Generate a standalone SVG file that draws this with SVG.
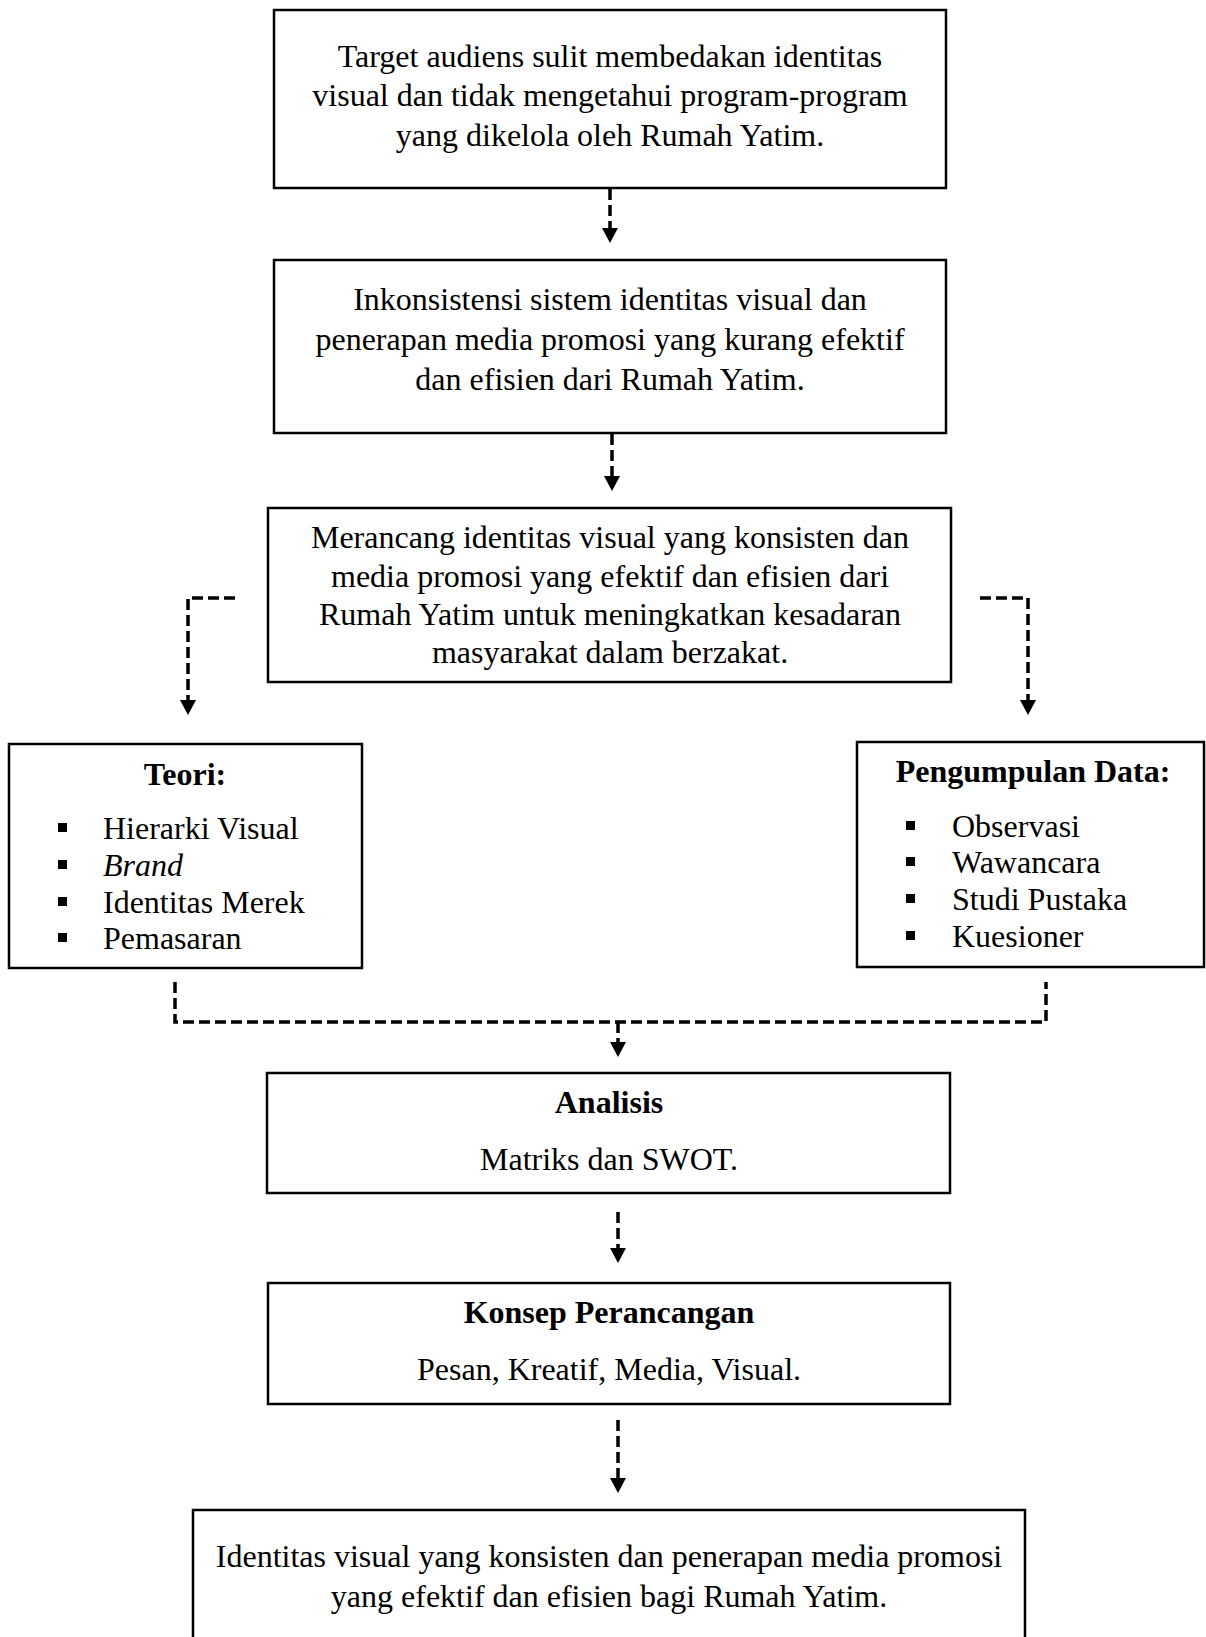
<svg xmlns="http://www.w3.org/2000/svg" width="1206" height="1637" viewBox="0 0 1206 1637">
<style>
.box{fill:#fff;stroke:#000;stroke-width:2.5}
.t{font-family:"Liberation Serif","Times New Roman",serif;font-size:32px;fill:#000}
.c{text-anchor:middle}
.b{font-weight:bold}
.conn{fill:none;stroke:#000;stroke-width:3.5;stroke-dasharray:11 5}
.bul{fill:#000}
</style>
<defs>
<marker id="ah" viewBox="0 0 15 16" markerWidth="15" markerHeight="16" refX="0" refY="8" orient="auto" markerUnits="userSpaceOnUse">
<path d="M0,0 L15,8 L0,16 z" fill="#000"/>
</marker>
</defs>
<rect width="1206" height="1637" fill="#fff"/>
<g id="connectors">
<path class="conn" d="M610,189 V228" marker-end="url(#ah)"/>
<path class="conn" d="M612,434 V476" marker-end="url(#ah)"/>
<path class="conn" d="M235,598 H188 V700" marker-end="url(#ah)"/>
<path class="conn" d="M980,598 H1028 V700" marker-end="url(#ah)"/>
<path class="conn" d="M175,982 V1022 H1046 V982"/>
<path class="conn" d="M618,1022 V1042" marker-end="url(#ah)"/>
<path class="conn" d="M618,1212 V1248" marker-end="url(#ah)"/>
<path class="conn" d="M618,1420 V1478" marker-end="url(#ah)"/>
</g>
<g id="node-masalah">
<rect class="box" x="274" y="10" width="672" height="178"/>
<text class="t c" x="610" y="67">Target audiens sulit membedakan identitas</text>
<text class="t c" x="610" y="106">visual dan tidak mengetahui program-program</text>
<text class="t c" x="610" y="146">yang dikelola oleh Rumah Yatim.</text>
</g>
<g id="node-inkonsistensi">
<rect class="box" x="274" y="260" width="672" height="173"/>
<text class="t c" x="610" y="310">Inkonsistensi sistem identitas visual dan</text>
<text class="t c" x="610" y="350">penerapan media promosi yang kurang efektif</text>
<text class="t c" x="610" y="390">dan efisien dari Rumah Yatim.</text>
</g>
<g id="node-merancang">
<rect class="box" x="268" y="508" width="683" height="174"/>
<text class="t c" x="610" y="548">Merancang identitas visual yang konsisten dan</text>
<text class="t c" x="610" y="587">media promosi yang efektif dan efisien dari</text>
<text class="t c" x="610" y="625">Rumah Yatim untuk meningkatkan kesadaran</text>
<text class="t c" x="610" y="663">masyarakat dalam berzakat.</text>
</g>
<g id="node-teori">
<rect class="box" x="9" y="744" width="353" height="224"/>
<text class="t c b" x="185" y="785">Teori:</text>
<rect class="bul" x="58" y="823" width="9" height="9"/>
<rect class="bul" x="58" y="860" width="9" height="9"/>
<rect class="bul" x="58" y="897" width="9" height="9"/>
<rect class="bul" x="58" y="933" width="9" height="9"/>
<text class="t" x="103" y="839">Hierarki Visual</text>
<text class="t" x="103" y="876" font-style="italic">Brand</text>
<text class="t" x="103" y="913">Identitas Merek</text>
<text class="t" x="103" y="949">Pemasaran</text>
</g>
<g id="node-data">
<rect class="box" x="857" y="742" width="347" height="225"/>
<text class="t c b" x="1033" y="782">Pengumpulan Data:</text>
<rect class="bul" x="906" y="821" width="9" height="9"/>
<rect class="bul" x="906" y="857" width="9" height="9"/>
<rect class="bul" x="906" y="894" width="9" height="9"/>
<rect class="bul" x="906" y="931" width="9" height="9"/>
<text class="t" x="952" y="837">Observasi</text>
<text class="t" x="952" y="873">Wawancara</text>
<text class="t" x="952" y="910">Studi Pustaka</text>
<text class="t" x="952" y="947">Kuesioner</text>
</g>
<g id="node-analisis">
<rect class="box" x="267" y="1073" width="683" height="120"/>
<text class="t c b" x="609" y="1113">Analisis</text>
<text class="t c" x="609" y="1170">Matriks dan SWOT.</text>
</g>
<g id="node-konsep">
<rect class="box" x="268" y="1283" width="682" height="121"/>
<text class="t c b" x="609" y="1323">Konsep Perancangan</text>
<text class="t c" x="609" y="1380">Pesan, Kreatif, Media, Visual.</text>
</g>
<g id="node-hasil">
<rect class="box" x="193" y="1510" width="832" height="140"/>
<text class="t c" x="609" y="1567">Identitas visual yang konsisten dan penerapan media promosi</text>
<text class="t c" x="609" y="1607">yang efektif dan efisien bagi Rumah Yatim.</text>
</g>
</svg>
